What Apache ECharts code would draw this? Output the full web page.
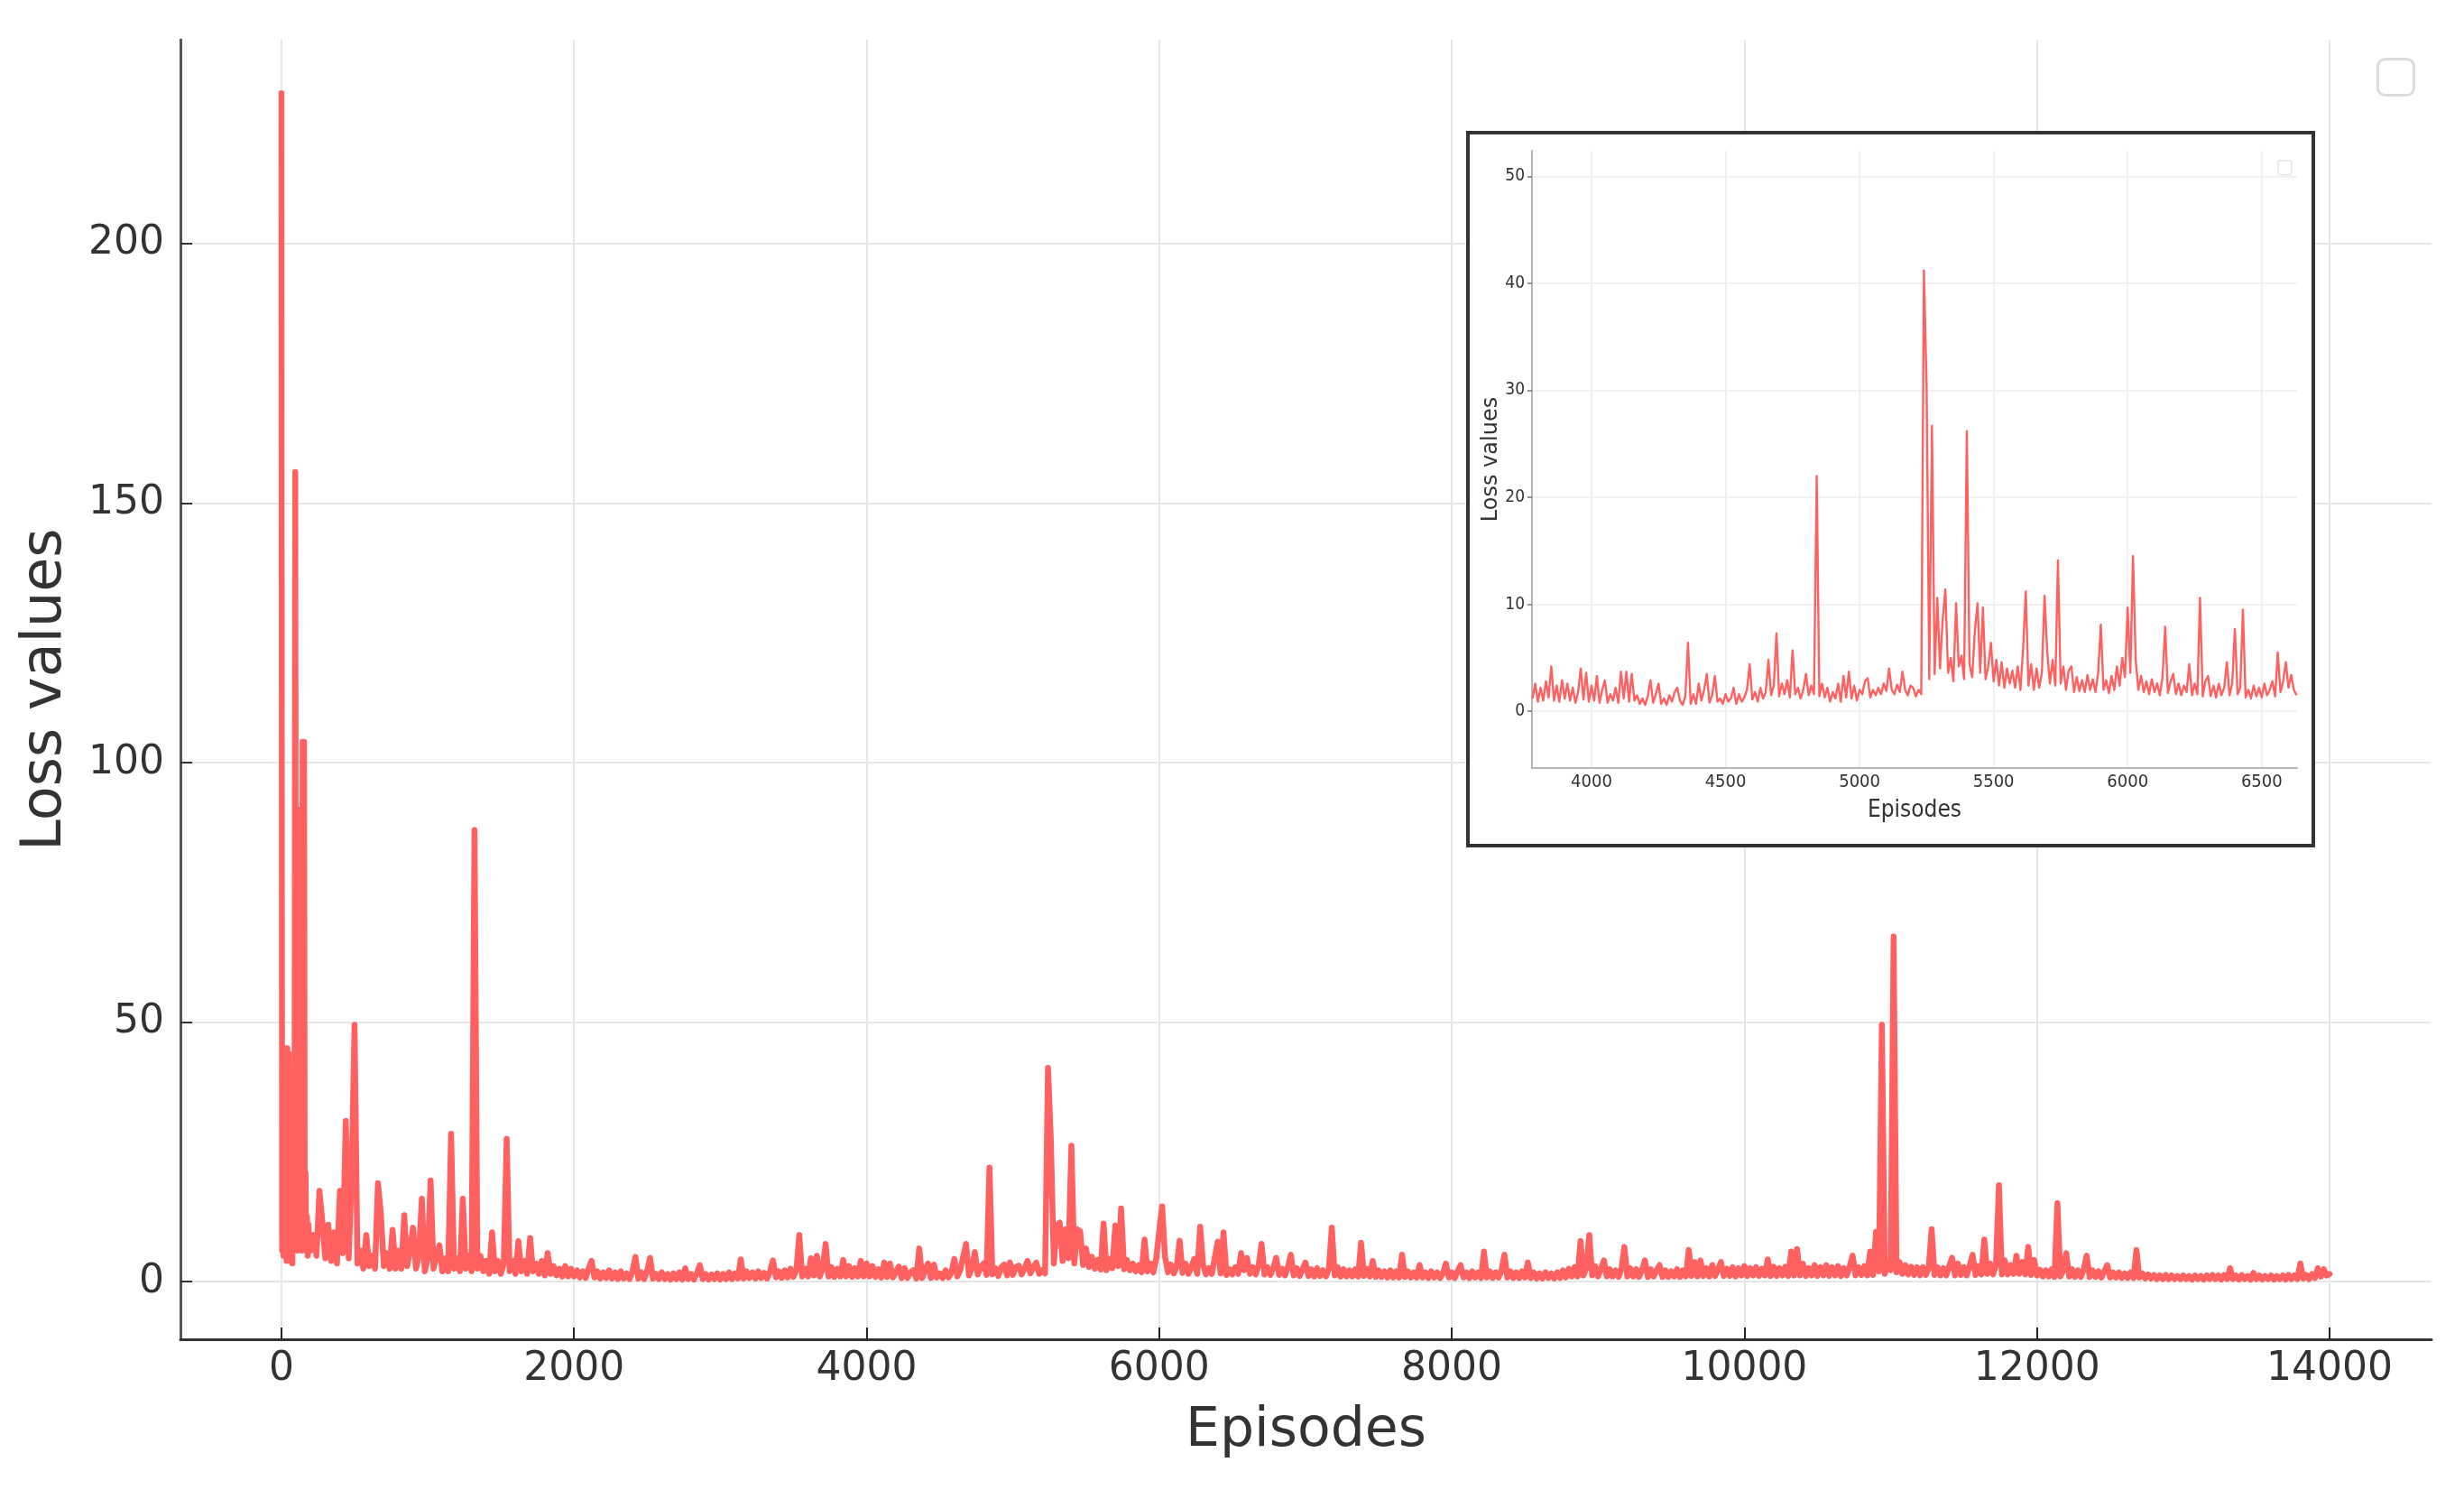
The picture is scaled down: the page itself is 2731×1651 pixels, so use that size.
<!DOCTYPE html>
<html>
<head>
<meta charset="utf-8">
<title>Loss values</title>
<script src="https://cdn.jsdelivr.net/npm/echarts@6/dist/echarts.min.js"></script>
<style>
  html, body { margin: 0; padding: 0; background: #fff; }
  #chart { width: 2731px; height: 1651px; }
</style>
</head>
<body>
<div id="chart"></div>
<script>
// first 200 episodes, read finer: one value every 5 episodes
var EARLY_STEP = 5;
var earlyLoss = [
  229, 6, 44, 5, 45, 8, 44, 4, 45, 6,
  44, 4, 23, 5, 22, 3.5, 23, 6, 20, 156,
  8, 40, 6, 91, 10, 91, 7, 60, 6, 104,
  9, 104, 8, 21, 6, 12.5, 5, 11, 6, 9
];

// rest of the run, one value every STEP episodes (200 .. 14000)
var MAIN_START = 200;
var STEP = 20;
var mainLoss = [
  6, 9, 5, 17.5, 11.5, 4.5, 11, 4, 9.5, 3.5,
  17.5, 5.5, 31, 4.5, 20, 49.5, 3.5, 6, 2.5, 9,
  3, 5, 2.5, 19, 13, 3, 5.5, 2.5, 10, 2.5,
  6, 2.5, 12.8, 3, 6, 10.4, 2.5, 5, 16, 2,
  // 1000
  4.5, 19.5, 2.5, 5, 7, 2, 4.5, 2, 28.5, 2.5,
  4.5, 2, 16, 2.5, 5, 2, 87, 2.5, 5, 2,
  4, 1.5, 9.5, 2, 4, 1.5, 3.5, 27.5, 2, 4,
  1.5, 7.8, 2, 4, 1.5, 8.4, 2, 3.5, 1.5, 4,
  1.2, 5.5, 1.5, 3, 1.2, 2.5, 1, 3, 1, 2.5,
  // 2000
  1, 2.2, 0.8, 2, 0.7, 2.5, 4, 0.8, 2, 0.6,
  1.8, 0.7, 2.2, 0.6, 1.8, 0.5, 2, 0.6, 1.6, 0.5,
  2, 4.8, 0.6, 1.8, 0.5, 2, 4.6, 0.6, 1.5, 0.5,
  1.8, 0.5, 1.5, 0.4, 1.6, 0.5, 1.8, 0.4, 2.6, 0.5,
  1.5, 0.4, 1.6, 3.2, 0.5, 1.5, 0.4, 1.4, 0.5, 1.6,
  // 3000
  0.4, 1.5, 0.5, 1.8, 0.5, 1.6, 0.6, 4.3, 0.6, 2,
  0.7, 1.8, 0.6, 2, 0.7, 1.7, 0.6, 2, 4.1, 0.8,
  2, 0.7, 2.2, 0.8, 2.5, 0.9, 2.2, 9, 1, 2.5,
  1, 4.5, 1.2, 5, 1, 2.5, 7.3, 1, 2.8, 0.9,
  2.5, 1, 4.2, 1, 3, 0.9, 2.6, 1, 4, 1,
  // 4000
  3.5, 1, 3, 0.9, 2.4, 0.8, 3.7, 0.9, 3.5, 0.8,
  1.8, 2.9, 0.7, 2.6, 0.7, 1.8, 2.2, 0.6, 6.4, 0.7,
  2.2, 3.5, 0.7, 3.3, 0.8, 1.6, 0.7, 2.2, 0.8, 1.8,
  4.4, 1, 2.2, 4.8, 7.3, 1.2, 2.6, 5.7, 1.4, 2.8,
  3.5, 1.3, 22, 1.4, 2.6, 1.1, 2.8, 3.3, 1.2, 3.7,
  // 5000
  1.3, 2.8, 3.1, 1.4, 2.5, 4, 1.6, 2.8, 3.7, 1.5,
  2.2, 1.6, 41.2, 27, 3.5, 10.6, 11.4, 4, 10.1, 4.5,
  26.2, 3.5, 10.1, 9.7, 3.2, 6.4, 2.8, 4.8, 2.5, 4.2,
  2.3, 11.2, 2.2, 4.4, 2.6, 10.8, 3, 14.1, 2.4, 4.2,
  2.2, 3.5, 2, 3.2, 1.8, 8.1, 2, 3.5, 1.8, 4.5,
  // 6000
  9.7, 14.5, 4.8, 1.8, 3.3, 1.6, 3, 7.9, 1.7, 3.5,
  1.5, 2.8, 4.4, 1.5, 10.6, 3.3, 1.4, 2.6, 1.5, 4.6,
  7.7, 1.6, 9.5, 1.3, 2.4, 1.4, 2.8, 1.5, 5.5, 2.2,
  4.6, 1.5, 2.8, 1.4, 3.2, 7.3, 1.4, 2.8, 1.3, 2.6,
  4.6, 1.3, 2.5, 1.2, 2.8, 5.2, 1.2, 2.6, 1.1, 2.4,
  // 7000
  3.7, 1.1, 2.4, 1, 2.6, 1.1, 2.2, 1, 2.5, 10.4,
  1.2, 2.8, 1, 2.4, 1, 2.2, 1, 2.4, 1, 7.5,
  1.1, 2.5, 1, 4, 0.9, 2.2, 0.9, 2, 0.8, 2.2,
  0.8, 2, 0.8, 5.2, 0.9, 2, 0.8, 1.8, 0.8, 3.2,
  0.8, 1.8, 0.7, 2, 0.8, 1.8, 0.7, 1.6, 3.5, 0.8,
  // 8000
  1.8, 0.7, 2, 3.2, 0.8, 1.8, 0.7, 2, 0.8, 1.8,
  0.7, 5.8, 0.8, 2, 0.7, 1.8, 0.8, 2.2, 5.2, 0.8,
  2, 0.7, 1.8, 0.7, 2, 0.8, 3.7, 0.7, 1.8, 0.6,
  1.6, 0.6, 1.8, 0.7, 1.6, 0.6, 1.8, 0.7, 2.2, 0.8,
  2.5, 1, 2.8, 1, 7.8, 1.2, 2.6, 9, 1.2, 3,
  // 9000
  1, 2.5, 4.1, 1, 2.4, 1, 2.2, 0.9, 2.5, 6.7,
  1, 2.6, 1, 2.4, 0.9, 2.2, 4.1, 0.9, 2.4, 1,
  2.2, 3.2, 0.9, 2.2, 0.9, 2, 1, 2.4, 0.9, 2.2,
  1, 6.1, 1.1, 3.8, 1, 4.1, 1.1, 2.6, 1, 3.2,
  1.1, 2.4, 3.8, 1.1, 2.5, 1.1, 2.8, 1, 2.6, 1.2,
  // 10000
  3, 1.1, 2.6, 1.2, 2.8, 1.1, 2.5, 1.2, 4.3, 1.1,
  2.9, 1.1, 2.6, 1.2, 2.9, 1.1, 5.8, 1.2, 6.3, 1.2,
  3.5, 1.1, 2.6, 1.2, 3.2, 1.1, 2.8, 1.2, 3.2, 1.1,
  2.8, 1.2, 3, 1.1, 2.6, 1.2, 3, 5, 1.2, 2.8,
  1.3, 3, 1.2, 5.8, 1.3, 9.6, 2, 49.5, 1.5, 3.8,
  // 11000
  2.2, 66.5, 1.8, 3.8, 1.5, 3.2, 1.4, 2.9, 1.3, 2.8,
  1.2, 2.8, 1.3, 2.6, 10.1, 1.3, 2.8, 1.2, 2.6, 1.2,
  3, 4.6, 1.2, 3.5, 1.3, 2.8, 1.2, 3, 5.2, 1.3,
  3, 1.4, 8.1, 1.5, 3.5, 1.4, 3.2, 18.6, 1.4, 4.1,
  1.4, 3.2, 1.5, 5, 1.5, 3.8, 1.4, 6.7, 1.3, 4.2,
  // 12000
  1.2, 2.3, 1, 2.2, 1, 2.4, 0.9, 15.1, 1, 2.2,
  5.5, 1, 2.4, 0.9, 2.2, 0.9, 2.4, 5, 0.9, 2.2,
  0.9, 2, 0.8, 2, 3.2, 0.8, 1.8, 0.8, 1.8, 0.7,
  1.6, 0.7, 1.8, 0.7, 6.1, 0.8, 1.6, 0.6, 1.4, 0.6,
  1.3, 0.5, 1.2, 0.5, 1.3, 0.5, 1.2, 0.5, 1.1, 0.5,
  // 13000
  1.2, 0.5, 1.1, 0.4, 1.2, 0.5, 1.1, 0.4, 1.2, 0.5,
  1.3, 0.5, 1.2, 0.4, 1.3, 0.5, 2.6, 0.5, 1.2, 0.4,
  1.3, 0.5, 1.1, 0.4, 1.7, 0.5, 1.2, 0.4, 1.1, 0.5,
  1.2, 0.4, 1.1, 0.5, 1.2, 0.4, 1.3, 0.5, 1.2, 0.5,
  3.5, 0.6, 1.3, 0.5, 1.5, 0.7, 2.6, 1, 2.4, 1.2,
  1.5
];

// zoomed window, one value every INSET_STEP episodes from INSET_START
var INSET_START = 3780;
var INSET_STEP = 10;
var insetLoss = [
  1.2, 2.6, 0.9, 2.2, 1.0, 2.8, 1.3, 4.2, 1.0, 2.4,
  0.9, 2.9, 1.2, 2.6, 1.0, 2.2, 0.8, 1.8, 4.0, 1.1,
  3.6, 0.9, 2.4, 1.0, 3.3, 0.8, 2.0, 2.9, 0.8, 1.6,
  1.0, 2.2, 0.8, 3.7, 1.2, 3.7, 0.9, 3.5, 1.0, 1.5,
  0.7, 1.2, 0.6, 1.4, 2.9, 0.8, 1.6, 2.6, 0.7, 1.2,
  0.6, 1.5, 0.9, 1.8, 2.2, 1.0, 0.6, 1.4, 6.4, 0.7,
  1.6, 0.7, 2.6, 1.0, 2.0, 3.5, 0.8, 1.5, 3.3, 0.9,
  1.2, 0.7, 1.6, 0.9, 1.2, 2.2, 0.7, 1.6, 0.9, 1.3,
  2.0, 4.4, 1.1, 1.8, 0.9, 2.2, 1.2, 1.8, 4.8, 1.5,
  2.4, 7.3, 1.4, 2.6, 1.6, 2.9, 1.3, 5.7, 1.6, 2.2,
  1.2, 2.0, 3.5, 1.5, 2.4, 1.6, 22.0, 1.4, 2.6, 1.3,
  2.2, 0.9, 1.8, 1.2, 2.6, 0.9, 3.3, 1.3, 3.7, 1.2,
  2.4, 1.0, 2.0, 1.6, 2.8, 3.1, 1.3, 2.0, 1.5, 2.2,
  1.6, 2.6, 1.9, 4.0, 2.0, 1.6, 2.5, 1.8, 3.7, 2.0,
  1.5, 2.4, 2.2, 1.4, 2.0, 1.6, 41.2, 30.4, 3.0, 26.7,
  3.5, 10.6, 4.0, 8.6, 11.4, 3.6, 5.0, 2.8, 10.1, 4.2,
  5.2, 3.0, 26.2, 4.4, 3.2, 7.5, 10.1, 3.6, 9.7, 3.0,
  4.2, 6.4, 2.8, 4.8, 2.4, 4.6, 2.2, 4.0, 2.6, 3.8,
  2.2, 4.2, 2.0, 5.9, 11.2, 2.4, 4.4, 2.0, 4.0, 2.2,
  3.6, 10.8, 5.5, 2.6, 4.8, 2.4, 14.1, 2.6, 4.2, 2.0,
  3.8, 4.2, 1.8, 3.2, 1.9, 2.9, 1.8, 3.4, 2.0, 3.0,
  1.8, 3.6, 8.1, 2.0, 2.9, 1.7, 3.3, 2.0, 4.2, 2.4,
  5.0, 3.2, 9.7, 3.6, 14.5, 4.8, 2.0, 3.3, 1.8, 2.8,
  1.6, 3.0, 1.8, 2.6, 1.5, 3.2, 7.9, 1.7, 2.8, 3.5,
  1.6, 2.6, 1.5, 2.4, 1.8, 4.4, 1.5, 2.6, 1.6, 10.6,
  1.4, 2.8, 3.3, 1.4, 2.4, 1.3, 2.6, 1.5, 2.2, 4.6,
  1.5, 2.6, 7.7, 1.6, 2.2, 9.5, 1.3, 2.0, 1.2, 2.4,
  1.4, 2.2, 1.3, 2.6, 1.5, 2.0, 2.8, 1.4, 5.5, 1.8,
  2.8, 4.6, 2.2, 3.4, 2.0, 1.5
];

var mainXTicks = [0, 2000, 4000, 6000, 8000, 10000, 12000, 14000];
var mainYTicks = [0, 50, 100, 150, 200];
var insetXTicks = [4000, 4500, 5000, 5500, 6000, 6500];
var insetYTicks = [0, 10, 20, 30, 40, 50];

var lineColor = '#ff6060';
var font = 'DejaVu Sans';
var narrow = '"Liberation Sans Narrow", "DejaVu Sans Condensed", "DejaVu Sans"';
var plain = function (v) { return String(v); };

var mainData = earlyLoss.map(function (v, i) { return [i * EARLY_STEP, v]; })
  .concat(mainLoss.map(function (v, i) { return [MAIN_START + i * STEP, v]; }));
var insetData = insetLoss.map(function (v, i) { return [INSET_START + i * INSET_STEP, v]; });

var chart = echarts.init(document.getElementById('chart'));

var option = {
  backgroundColor: '#fff',
  animation: false,
  grid: [
    { left: 200, right: 36, top: 44, bottom: 167, containLabel: false },
    { left: 1698, right: 185, top: 167, bottom: 800, containLabel: false, zlevel: 1 }
  ],
  xAxis: [
    {
      type: 'value', gridIndex: 0,
      min: -690, max: 14697,
      name: 'Episodes', nameLocation: 'middle', nameGap: 72,
      nameTextStyle: { fontFamily: font, fontSize: 60, color: '#333' },
      axisLine: { show: true, onZero: false, lineStyle: { color: '#333', width: 3 } },
      axisTick: { show: true, inside: true, length: 13, customValues: mainXTicks, lineStyle: { color: '#222', width: 2 } },
      axisLabel: { customValues: mainXTicks, formatter: plain, margin: 12, fontFamily: font, fontSize: 44, color: '#333' },
      splitLine: { show: true, lineStyle: { color: '#e6e6e6', width: 2 } }
    },
    {
      type: 'value', gridIndex: 1, zlevel: 1, z: 5,
      min: 3778, max: 6632,
      name: 'Episodes', nameLocation: 'middle', nameGap: 34,
      nameTextStyle: { fontFamily: narrow, fontSize: 26, color: '#333' },
      axisLine: { show: true, onZero: false, lineStyle: { color: '#b5b5b5', width: 2 } },
      axisTick: { show: false, customValues: insetXTicks },
      axisLabel: { customValues: insetXTicks, formatter: plain, margin: 6, fontFamily: narrow, fontSize: 20, color: '#333' },
      splitLine: { show: true, lineStyle: { color: '#ececec', width: 1.5 } }
    }
  ],
  yAxis: [
    {
      type: 'value', gridIndex: 0,
      min: -11.1, max: 239.3,
      name: 'Loss values', nameLocation: 'middle', nameGap: 118, nameRotate: 90,
      nameTextStyle: { fontFamily: font, fontSize: 62, color: '#333' },
      axisLine: { show: true, onZero: false, lineStyle: { color: '#555', width: 3 } },
      axisTick: { show: true, inside: true, length: 13, customValues: mainYTicks, lineStyle: { color: '#333', width: 2 } },
      axisLabel: { customValues: mainYTicks, formatter: plain, margin: 18, fontFamily: font, fontSize: 44, color: '#333' },
      splitLine: { show: true, lineStyle: { color: '#e6e6e6', width: 2 } }
    },
    {
      type: 'value', gridIndex: 1, zlevel: 1, z: 5,
      min: -5.3, max: 52.4,
      name: 'Loss values', nameLocation: 'middle', nameGap: 28, nameRotate: 90,
      nameTextStyle: { fontFamily: font, fontSize: 24, color: '#333' },
      axisLine: { show: true, onZero: false, lineStyle: { color: '#b5b5b5', width: 2 } },
      axisTick: { show: true, length: 5, customValues: insetYTicks, lineStyle: { color: '#777', width: 1.5 } },
      axisLabel: { customValues: insetYTicks, formatter: plain, margin: 8, fontFamily: narrow, fontSize: 19, color: '#333' },
      splitLine: { show: true, lineStyle: { color: '#ececec', width: 1.5 } }
    }
  ],
  graphic: [
    // empty legend box of the main axes
    { type: 'rect', left: 2634, top: 64, shape: { width: 40, height: 40, r: 8 },
      style: { fill: '#fff', stroke: '#dcdcdc', lineWidth: 3 }, z: 10 },
    // inset frame
    { type: 'rect', left: 1625, top: 145, zlevel: 1, z: 1, shape: { width: 937, height: 790 },
      style: { fill: '#fff', stroke: '#333', lineWidth: 4 } },
    // empty legend box of the inset
    { type: 'rect', left: 2524, top: 177, zlevel: 1, z: 8, shape: { width: 15, height: 16, r: 3 },
      style: { fill: '#fff', stroke: '#e6e6e6', lineWidth: 1.5 } }
  ],
  series: [
    {
      type: 'line', xAxisIndex: 0, yAxisIndex: 0,
      data: mainData, showSymbol: false, symbol: 'none', sampling: null,
      lineStyle: { color: lineColor, width: 6.5, join: 'round', cap: 'round' }
    },
    {
      type: 'line', xAxisIndex: 1, yAxisIndex: 1, zlevel: 1, z: 6,
      data: insetData, showSymbol: false, symbol: 'none',
      lineStyle: { color: lineColor, width: 2.4, join: 'round' }
    }
  ]
};

chart.setOption(option);
</script>
</body>
</html>
